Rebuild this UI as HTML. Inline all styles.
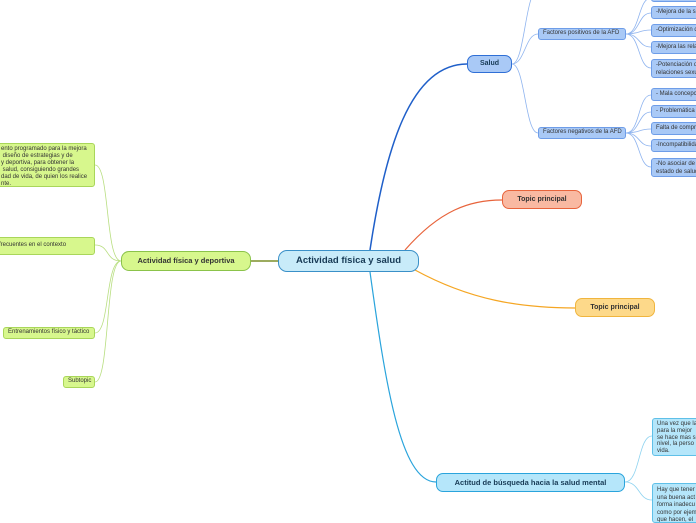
<!DOCTYPE html>
<html><head><meta charset="utf-8"><style>
body{margin:0;width:696px;height:520px;overflow:hidden;background:#fff;position:relative;font-family:"Liberation Sans",sans-serif}
.b{position:absolute;box-sizing:border-box;font-size:6px;color:#333;white-space:nowrap;overflow:hidden;border-radius:3px;padding:0 4px;line-height:7.5px}
.c{display:flex;align-items:center}
.bl{background:#a9c9f6;border:1px solid #6e9de8}
.gr{background:#d7f78d;border:1px solid #a9d65a}
.cy{background:#b5e6fa;border:1px solid #5fc0e8}
svg{position:absolute;left:0;top:0}
</style></head><body>
<svg width="696" height="520" fill="none">
<path d="M370 250 C385 150,410 64,467 64" stroke="#1f5fc9" stroke-width="1.5"/>
<path d="M405 250 C440 210,470 200,502 200" stroke="#e8643c" stroke-width="1.2"/>
<path d="M415 270 C470 300,520 308,575 308" stroke="#f5a623" stroke-width="1.2"/>
<path d="M370 272 C385 380,400 482,436 482" stroke="#2aa4dc" stroke-width="1.2"/>
<path d="M251 261 L278 261" stroke="#7c8f2a" stroke-width="1.5"/>
<g stroke="#8fb4ef" stroke-width="0.8">
<path d="M512 64 C525 64,525 34,538 34"/><path d="M512 64 C525 64,525 133,538 133"/>
<path d="M512 64 C525 64,525 -10,538 -10"/>
<path d="M626 34 C640 34,638 -2,651 -2"/><path d="M626 34 C640 34,638 13,651 13"/><path d="M626 34 C640 34,638 30,651 30"/><path d="M626 34 C640 34,638 47,651 47"/><path d="M626 34 C640 34,638 68,651 68"/>
<path d="M626 133 C640 133,638 95,651 95"/><path d="M626 133 C640 133,638 112,651 112"/><path d="M626 133 C640 133,638 129,651 129"/><path d="M626 133 C640 133,638 146,651 146"/><path d="M626 133 C640 133,638 167,651 167"/>
</g>
<g stroke="#8fd3f0" stroke-width="0.8"><path d="M625 482 C640 482,638 436,652 436"/><path d="M625 482 C640 482,638 500,652 500"/></g>
<g stroke="#b8de80" stroke-width="0.8">
<path d="M121 261 C105 261,110 165,95 165"/><path d="M121 261 C105 261,110 245,95 245"/><path d="M121 261 C105 261,110 333,95 333"/><path d="M121 261 C105 261,110 382,95 382"/>
</g>
</svg>
<div class="b c" style="left:278px;top:250px;width:141px;height:22px;background:#c8ebf9;border:1.5px solid #3a90c8;border-radius:9px;justify-content:center;font-size:9.5px;font-weight:bold;color:#173a55">Actividad física y salud</div>
<div class="b c" style="left:467px;top:55px;width:45px;height:18px;background:#a9c9f6;border:1.5px solid #2f6fd6;border-radius:7px;justify-content:center;font-size:7px;font-weight:bold;color:#173a55">Salud</div>
<div class="b c bl" style="left:538px;top:28px;width:88px;height:12px">Factores positivos de la AFD</div>
<div class="b c bl" style="left:538px;top:127px;width:88px;height:12px">Factores negativos de la AFD</div>
<div class="b c bl" style="left:651px;top:-6px;width:50px;height:8px"></div>
<div class="b c bl" style="left:651px;top:6px;width:50px;height:13px">-Mejora de la salud</div>
<div class="b c bl" style="left:651px;top:24px;width:50px;height:13px">-Optimización de</div>
<div class="b c bl" style="left:651px;top:41px;width:50px;height:13px">-Mejora las relaciones</div>
<div class="b bl" style="left:651px;top:59px;width:50px;height:19px;padding-top:2px">-Potenciación de<br>relaciones sexuales</div>
<div class="b c bl" style="left:651px;top:88px;width:50px;height:13px">- Mala concepción</div>
<div class="b c bl" style="left:651px;top:105px;width:50px;height:13px">- Problemática</div>
<div class="b c bl" style="left:651px;top:122px;width:50px;height:13px">Falta de compromiso</div>
<div class="b c bl" style="left:651px;top:139px;width:50px;height:13px">-Incompatibilidad</div>
<div class="b bl" style="left:651px;top:158px;width:50px;height:19px;padding-top:2px">-No asociar de<br>estado de salud</div>
<div class="b c" style="left:502px;top:190px;width:80px;height:19px;background:#f9b9a2;border:1px solid #e8643c;border-radius:7px;justify-content:center;font-size:7px;font-weight:bold;color:#333">Topic principal</div>
<div class="b c" style="left:575px;top:298px;width:80px;height:19px;background:#fdd98a;border:1px solid #f0b53e;border-radius:7px;justify-content:center;font-size:7px;font-weight:bold;color:#333">Topic principal</div>
<div class="b c" style="left:436px;top:473px;width:189px;height:19px;background:#b5e6fa;border:1.5px solid #2aa4dc;border-radius:7px;justify-content:center;font-size:7.5px;font-weight:bold;color:#173a55">Actitud de búsqueda hacia la salud mental</div>
<div class="b cy" style="left:652px;top:418px;width:50px;height:38px;padding-top:2px;line-height:6.8px">Una vez que la<br>para la mejor<br>se hace mas s<br>nivel, la perso<br>vida.</div>
<div class="b cy" style="left:652px;top:483px;width:50px;height:40px;padding-top:3px">Hay que tener<br>una buena act<br>forma inadecu<br>como por ejem<br>que hacen, el</div>
<div class="b c" style="left:121px;top:251px;width:130px;height:20px;background:#d7f78d;border:1.5px solid #8bc34a;border-radius:8px;justify-content:center;font-size:7.5px;font-weight:bold;color:#333">Actividad física y deportiva</div>
<div class="b gr" style="left:-4px;top:143px;width:99px;height:44px;padding:2px 0 0 4px;line-height:7px">ento programado para la mejora<br>&nbsp;diseño de estrategias y de<br>y deportiva, para obtener la<br>&nbsp;salud, consiguiendo grandes<br>dad de vida, de quien los realice<br>nte.</div>
<div class="b c gr" style="left:-4px;top:237px;width:99px;height:18px;padding-left:2px">frecuentes en el contexto</div>
<div class="b c gr" style="left:3px;top:327px;width:92px;height:12px">Entrenamientos físico y táctico</div>
<div class="b c gr" style="left:63px;top:376px;width:32px;height:12px">Subtopic</div>
</body></html>
